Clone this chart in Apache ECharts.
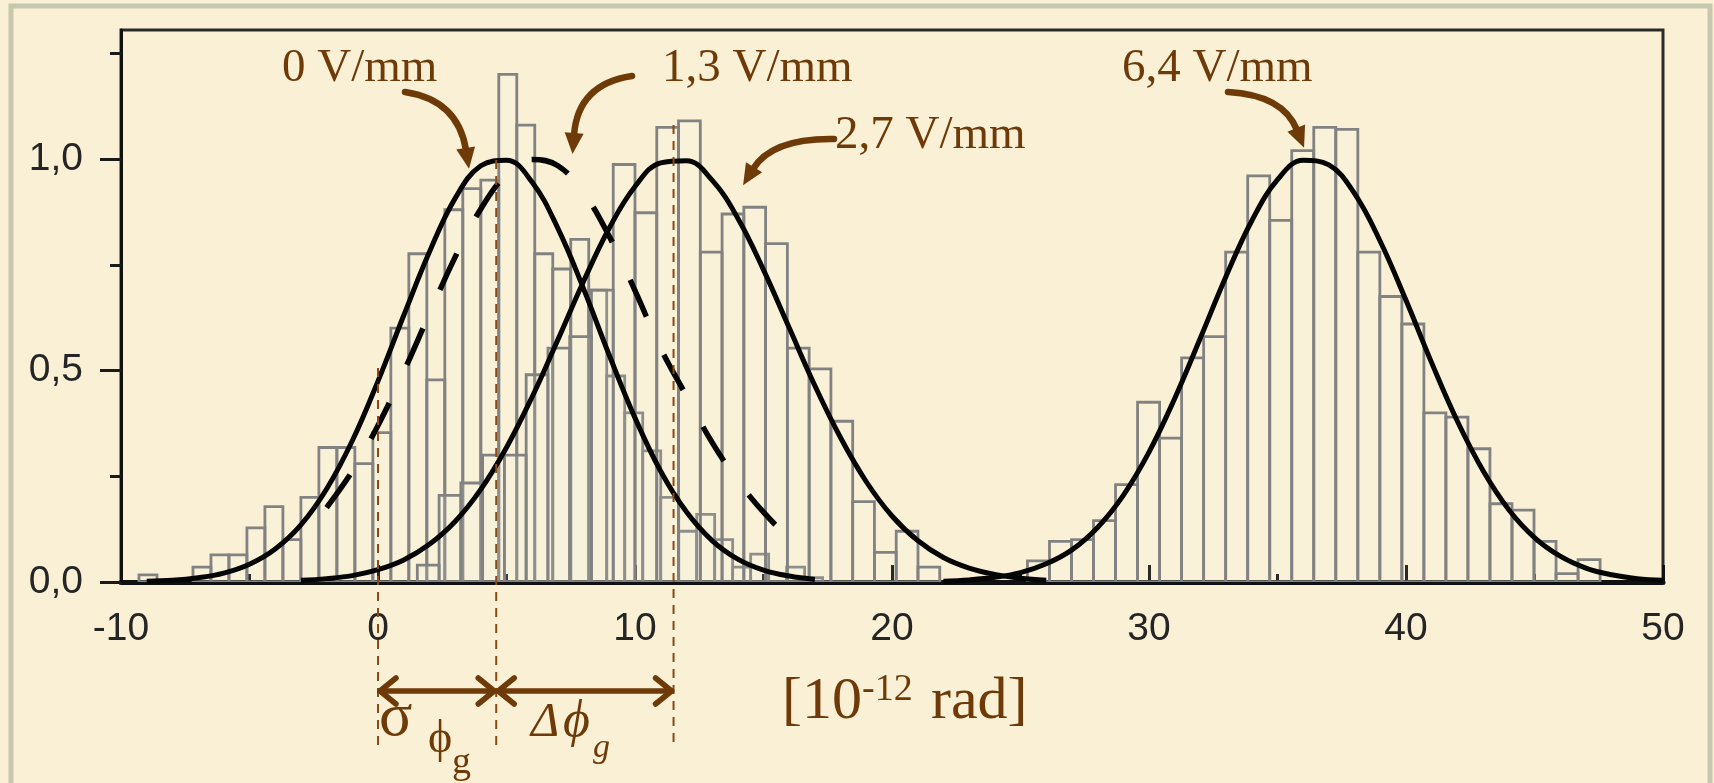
<!DOCTYPE html>
<html><head><meta charset="utf-8">
<script src="https://cdn.jsdelivr.net/npm/echarts@6/dist/echarts.min.js"></script>
<style>html,body{margin:0;padding:0;background:#F9F0D5;}#c{width:1714px;height:783px;}</style>
</head><body><div id="c"></div>
<script>
// ---------------- DATA ----------------
const xTickValues = [-10, 0, 10, 20, 30, 40, 50];
const xTickLabels = ['-10', '0', '10', '20', '30', '40', '50'];
const yTickValues = [0, 0.5, 1.0];
const yTickLabels = ['0,0', '0,5', '1,0'];
const yMinorTickValues = [0.25, 0.75, 1.25];

// histograms: first bin left edge, bin width, heights
const hist0Start = -9.3, hist0Width = 0.7;
const hist0Heights = [0.017, 0, 0, 0.035, 0.064, 0.064, 0.128, 0.178, 0.10, 0.20, 0.318, 0.318, 0.28, 0.353,
  0.60, 0.776, 0.478, 0.88, 0.93, 0.95, 1.20, 1.08, 0.776, 0.74, 0.81, 0.69, 0.487, 0.40, 0.31, 0.20, 0.12,
  0.16, 0.10, 0.035, 0.066, 0.02, 0.035, 0.01];
const hist27Start = 1.53, hist27Width = 0.847;
const hist27Heights = [0.04, 0.205, 0.234, 0.30, 0.30, 0.49, 0.553, 0.58, 0.69, 0.987, 0.873, 1.075, 1.09,
  0.78, 0.87, 0.886, 0.80, 0.553, 0.504, 0.38, 0.19, 0.07, 0.12, 0.035];
const hist64Start = 25.27, hist64Width = 0.857;
const hist64Heights = [0.05, 0.096, 0.10, 0.145, 0.23, 0.425, 0.34, 0.53, 0.58, 0.78, 0.96, 0.855, 1.02, 1.075,
  1.07, 0.78, 0.675, 0.61, 0.40, 0.39, 0.315, 0.185, 0.17, 0.096, 0.02, 0.053];

// fitted curves
const curve0X = [-9, -8, -7, -6, -5, -4, -3, -2, -1, 0, 1, 2, 3, 4, 5, 6, 7, 8, 9, 10, 11, 12, 13, 14, 15, 16, 17];
const curve0Y = [0.002, 0.004, 0.01, 0.021, 0.042, 0.078, 0.135, 0.22, 0.334, 0.475, 0.63, 0.78, 0.907, 0.984,
  0.997, 0.945, 0.836, 0.693, 0.536, 0.388, 0.262, 0.166, 0.098, 0.054, 0.028, 0.014, 0.006];
const curve13X = [-2, -1, 0, 1, 2, 3, 4, 5, 6, 7, 8, 9, 10, 11, 12, 13, 14, 15, 16, 16.5];
const curve13Y = [0.176, 0.262, 0.37, 0.497, 0.634, 0.768, 0.882, 0.963, 0.999, 0.984, 0.92, 0.817, 0.689,
  0.552, 0.44, 0.33, 0.24, 0.165, 0.105, 0.085];
const curve27X = [-3, -2, -1, 0, 1, 2, 3, 4, 5, 6, 7, 8, 9, 10, 11, 12, 13, 14, 15, 16, 17, 18, 19, 20, 21, 22, 23, 24, 25, 26];
const curve27Y = [0.004, 0.008, 0.015, 0.029, 0.052, 0.089, 0.143, 0.219, 0.318, 0.438, 0.573, 0.711, 0.837,
  0.935, 0.991, 0.996, 0.95, 0.86, 0.738, 0.601, 0.464, 0.341, 0.237, 0.156, 0.098, 0.058, 0.033, 0.018, 0.009, 0.004];
const curve64X = [22, 23, 24, 25, 26, 27, 28, 29, 30, 31, 32, 33, 34, 35, 36, 37, 38, 39, 40, 41, 42, 43, 44, 45, 46, 47, 48, 49, 50];
const curve64Y = [0.002, 0.005, 0.011, 0.022, 0.043, 0.076, 0.129, 0.205, 0.307, 0.434, 0.577, 0.723, 0.854,
  0.951, 0.997, 0.986, 0.918, 0.805, 0.666, 0.518, 0.38, 0.263, 0.171, 0.105, 0.061, 0.033, 0.017, 0.008, 0.004];

// annotation anchors (data x)
const sigmaStartX = 0, peak0X = 4.6, peak27X = 11.5;

// ---------------- CHART ----------------
const BROWN = '#6E3A08';
const chart = echarts.init(document.getElementById('c'));

function histSeries(start, width, heights) {
  const data = heights.map((h, i) => [start + i * width, start + (i + 1) * width, h]);
  return {
    type: 'custom', z: 2, clip: true,
    encode: { x: [0, 1], y: 2 },
    data: data,
    renderItem: function (params, api) {
      const h = api.value(2);
      if (!(h > 0)) return null;
      const a = api.coord([api.value(0), h]);
      const b = api.coord([api.value(1), 0]);
      return {
        type: 'rect',
        shape: { x: a[0], y: a[1], width: b[0] - a[0], height: b[1] - a[1] },
        style: { fill: 'rgba(255,255,250,0.10)', stroke: '#828282', lineWidth: 2.8 }
      };
    }
  };
}
function lineSeries(xs, ys, dashed) {
  return {
    type: 'line', z: 4, smooth: 0.4, symbol: 'none', silent: true,
    data: xs.map((x, i) => [x, ys[i]]),
    lineStyle: { color: '#050505', width: dashed ? 5.5 : 5, type: dashed ? [40, 42] : 'solid', cap: 'butt', join: 'round' }
  };
}

const tickFont = { fontSize: 39, color: '#252525', fontFamily: 'Liberation Sans' };

chart.setOption({
  animation: false,
  backgroundColor: '#F9F0D5',
  grid: { left: 121, right: 51, top: 30, bottom: 201, show: true, borderColor: '#2a2a2a', borderWidth: 3 },
  xAxis: {
    type: 'value', min: -10, max: 50, interval: 10,
    axisLine: { show: true, onZero: false, lineStyle: { color: '#111', width: 5 } },
    axisTick: { show: true, inside: true, length: 17, lineStyle: { color: '#111', width: 3 } },
    minorTick: { show: true, splitNumber: 2, length: 8, lineStyle: { color: '#111', width: 3 } },
    axisLabel: Object.assign({ margin: 28, formatter: v => xTickLabels[xTickValues.indexOf(v)] }, tickFont),
    splitLine: { show: false }
  },
  yAxis: [{
    type: 'value', min: 0, max: 1.305, interval: 0.5,
    axisLine: { show: true, onZero: false, lineStyle: { color: '#111', width: 3 } },
    axisTick: { show: true, inside: false, length: 21, customValues: yTickValues, lineStyle: { color: '#1a1a1a', width: 3 } },
    axisLabel: Object.assign({ margin: 38, customValues: yTickValues,
      formatter: v => yTickLabels[yTickValues.findIndex(t => Math.abs(t - v) < 1e-6)] }, tickFont),
    splitLine: { show: false }
  }, {
    type: 'value', min: 0, max: 1.305, position: 'left',
    axisLine: { show: false, onZero: false },
    axisTick: { show: true, inside: false, length: 11, customValues: yMinorTickValues, lineStyle: { color: '#1a1a1a', width: 3 } },
    axisLabel: { show: false }, splitLine: { show: false }
  }],
  series: [
    histSeries(hist0Start, hist0Width, hist0Heights),
    histSeries(hist27Start, hist27Width, hist27Heights),
    histSeries(hist64Start, hist64Width, hist64Heights),
    lineSeries(curve0X, curve0Y, false),
    lineSeries(curve13X, curve13Y, true),
    lineSeries(curve27X, curve27Y, false),
    lineSeries(curve64X, curve64Y, false)
  ]
});

// ---------------- ANNOTATIONS ----------------
const px = (x, y) => chart.convertToPixel({ gridIndex: 0 }, [x, y]);
const g = [];
// outer frame
g.push({ type: 'rect', silent: true, z: 0, shape: { x: 11, y: 6, width: 1699, height: 840 },
  style: { fill: 'none', stroke: '#C7C6AF', lineWidth: 5 } });

function text(str, x, baseline, size, opts) {
  opts = opts || {};
  g.push({ type: 'text', z: 20, silent: true, x: x, y: baseline - 0.34 * size,
    style: { text: str, fill: BROWN, fontSize: size, fontFamily: opts.family || 'Liberation Serif',
      fontStyle: opts.italic ? 'italic' : 'normal', align: 'left', verticalAlign: 'middle' } });
}
function curvedArrow(p0, c, p1) {
  g.push({ type: 'bezierCurve', z: 20, silent: true,
    shape: { x1: p0[0], y1: p0[1], cpx1: c[0], cpy1: c[1], x2: p1[0], y2: p1[1] },
    style: { stroke: BROWN, lineWidth: 6.5, fill: 'none', lineCap: 'round' } });
  const dx = p1[0] - c[0], dy = p1[1] - c[1], L = Math.hypot(dx, dy);
  const ux = dx / L, uy = dy / L, len = 19, hw = 9.5;
  const tip = [p1[0] + ux * len, p1[1] + uy * len];
  const b = [p1[0] - ux * 2, p1[1] - uy * 2];
  g.push({ type: 'polygon', z: 20, silent: true,
    shape: { points: [tip, [b[0] - uy * hw, b[1] + ux * hw], [b[0] + uy * hw, b[1] - ux * hw]] },
    style: { fill: BROWN } });
}
function vdash(xData, yTopPx, yBotPx) {
  const x = px(xData, 0)[0];
  g.push({ type: 'line', z: 19, silent: true, shape: { x1: x, y1: yTopPx, x2: x, y2: yBotPx },
    style: { stroke: '#8A4A14', lineWidth: 2, lineDash: [9, 7] } });
}
function dblArrow(x1d, x2d, yPx) {
  const a = px(x1d, 0)[0], b = px(x2d, 0)[0];
  const st = { stroke: BROWN, lineWidth: 5.5, lineCap: 'round', lineJoin: 'round', fill: 'none' };
  g.push({ type: 'line', z: 20, silent: true, shape: { x1: a + 2, y1: yPx, x2: b - 2, y2: yPx }, style: st });
  g.push({ type: 'polyline', z: 20, silent: true, shape: { points: [[a + 18, yPx - 13], [a + 2, yPx], [a + 18, yPx + 13]] }, style: st });
  g.push({ type: 'polyline', z: 20, silent: true, shape: { points: [[b - 18, yPx - 13], [b - 2, yPx], [b - 18, yPx + 13]] }, style: st });
}

vdash(sigmaStartX, 368, 748);
vdash(peak0X, 160, 748);
vdash(peak27X, 125, 748);
dblArrow(sigmaStartX, peak0X, 691);
dblArrow(peak0X, peak27X, 691);

text('0 V/mm', 282, 85, 47);
text('1,3 V/mm', 662, 85, 47);
text('2,7 V/mm', 835, 152, 47);
text('6,4 V/mm', 1122, 85, 47);
text('[10', 782, 723, 60);
text('-12', 862, 703, 38);
text('rad]', 931, 723, 60);
text('σ', 379, 740, 62);
text('ϕ', 428, 756, 46);
text('g', 452, 776, 38);
text('Δ', 531, 740, 48, { italic: true });
text('ϕ', 563, 740, 52, { italic: true });
text('g', 593, 760, 34, { italic: true });

curvedArrow([405, 92], [458, 100], [466, 150]);
curvedArrow([632, 76], [578, 84], [574, 135]);
curvedArrow([834, 139], [772, 138], [753, 169]);
curvedArrow([1228, 92], [1283, 95], [1297, 130]);

chart.setOption({ graphic: g });
</script></body></html>
